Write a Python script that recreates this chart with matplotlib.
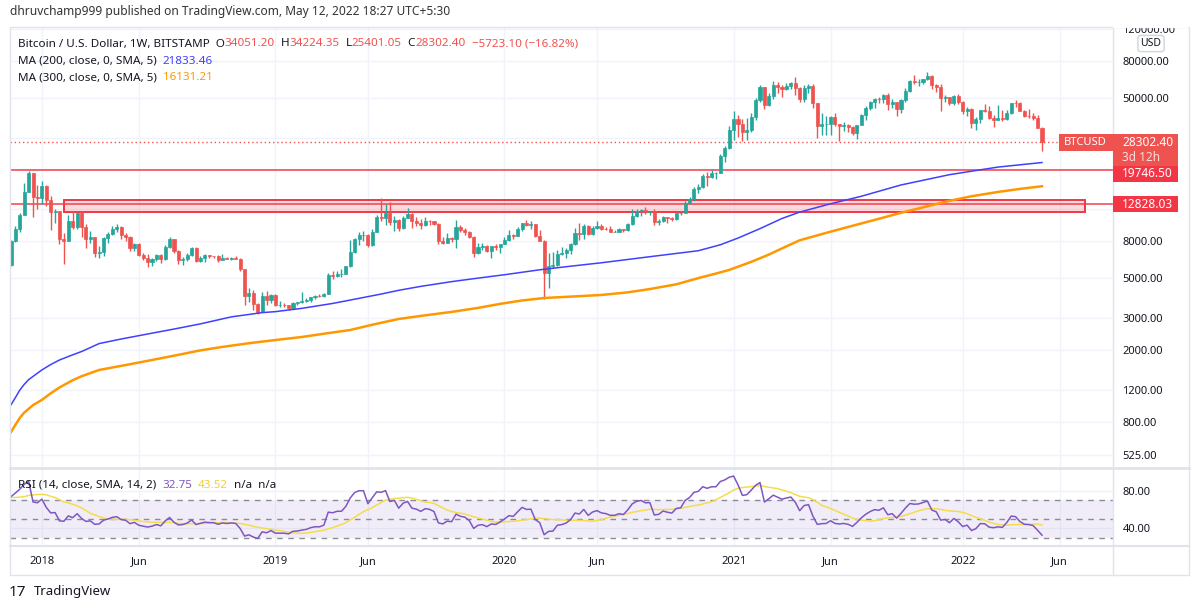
import numpy as np
import pandas as pd
import matplotlib
matplotlib.use("Agg")
import matplotlib.pyplot as plt
from matplotlib.patches import Rectangle
from matplotlib.lines import Line2D
from matplotlib.ticker import NullLocator
from matplotlib.transforms import blended_transform_factory

W, H = 1200, 610
plt.rcParams["font.family"] = ["Noto Sans", "DejaVu Sans"]

# BITSTAMP BTC/USD weekly candles, first bar = week of 2017-11-13
closes = [8040, 9380, 11250, 14900, 19050, 14100, 13850, 16200, 13600, 11550,
          11700, 8220, 8070, 10400, 9650, 11500, 9550, 8200, 8400, 6850,
          7000, 8350, 8800, 9400, 9650, 8700, 8500, 7350, 7700, 6750,
          6450, 6150, 6350, 6700, 6350, 7400, 8200, 7030, 6300, 6400,
          6700, 7300, 6250, 6500, 6700, 6620, 6600, 6300, 6500, 6400,
          6480, 6400, 5600, 4000, 4150, 3600, 3250, 4000, 3800, 4050,
          3550, 3550, 3530, 3420, 3650, 3670, 3750, 3800, 3930, 4000,
          3990, 4100, 5200, 5150, 5300, 5300, 5800, 7000, 8200, 8700,
          8700, 7650, 8950, 10850, 10800, 11450, 10200, 10550, 9500, 10800,
          11300, 10300, 10150, 9800, 10400, 10300, 10000, 8050, 7850, 8300,
          8200, 9550, 9200, 9050, 8500, 6900, 7400, 7500, 7100, 7500,
          7400, 7750, 8180, 8700, 8600, 9350, 10150, 9900, 9950, 8550,
          8050, 5350, 5850, 5900, 6800, 6900, 7150, 7700, 8900, 8750,
          9700, 8750, 9450, 9750, 9400, 9300, 9050, 9050, 9300, 9200,
          9950, 11100, 11700, 11900, 11650, 11700, 10250, 10350, 10900, 10750,
          10650, 11400, 11500, 13000, 13750, 15500, 15950, 18400, 18200, 19150,
          19150, 23850, 26300, 33000, 38200, 35800, 32300, 33100, 38900, 48600,
          57500, 45200, 51200, 59000, 57400, 55800, 58200, 60000, 56200, 49000,
          56600, 58200, 46400, 34700, 35600, 35800, 39000, 35500, 34700, 35300,
          34250, 31800, 35400, 39900, 43800, 47000, 49300, 48800, 51700, 46000,
          47200, 43200, 48200, 54600, 61500, 60900, 61300, 63300, 65500, 58700,
          57300, 49400, 50100, 46700, 50800, 47300, 41900, 43100, 36300, 37900,
          42400, 42200, 38400, 37700, 38400, 37800, 41300, 46800, 46400, 42200,
          39700, 39450, 38500, 34025.50, 28302.40]
highs = [8100, 9750, 11450, 16900, 19666, 19200, 16400, 17200, 16300, 14200,
         12000, 11800, 8900, 11250, 11750, 11650, 11700, 9950, 9100, 8500,
         7500, 8450, 9050, 9750, 10000, 9700, 8900, 8550, 7800, 7800,
         6850, 6800, 6450, 6800, 6780, 7600, 8500, 8250, 7150, 6550,
         6900, 7400, 7400, 6600, 6800, 6750, 6650, 6700, 6800, 6550,
         6550, 6600, 6500, 5650, 4400, 4300, 3650, 4200, 4250, 4100,
         4100, 3720, 3650, 3560, 3700, 3700, 4200, 3900, 3950, 4050,
         4100, 4150, 5350, 5450, 5450, 5650, 5850, 8100, 8350, 8950,
         9100, 8750, 9350, 11200, 13880, 12900, 13200, 11100, 10650, 11050,
         12300, 11500, 10950, 10650, 10900, 10450, 10350, 10050, 8500, 8850,
         8450, 10500, 9900, 9500, 9150, 8550, 7850, 7800, 7650, 7500,
         7700, 7550, 8450, 9200, 8800, 9600, 10150, 10500, 10300, 10000,
         9200, 8150, 6900, 6950, 7200, 7450, 7300, 7800, 9450, 10050,
         9950, 9850, 9700, 10400, 9950, 9600, 9780, 9200, 9450, 9350,
         10100, 12100, 12000, 12100, 12450, 11800, 12050, 10600, 11100, 10950,
         10950, 11450, 11750, 13350, 14050, 15950, 16500, 18800, 19450, 19900,
         19400, 24300, 26800, 34800, 41950, 40100, 37850, 38500, 40900, 49700,
         58350, 57500, 52650, 61800, 61200, 58500, 60200, 61200, 64900, 57200,
         58500, 59500, 59600, 46600, 40800, 39500, 39600, 41300, 35700, 36700,
         35900, 34600, 35400, 40600, 44800, 48150, 49400, 50500, 52000, 52900,
         48800, 47300, 49200, 56500, 62800, 67000, 63700, 63500, 69000, 66400,
         59400, 59100, 51950, 50600, 51900, 52000, 47550, 44450, 43500, 38950,
         42600, 45850, 44800, 39800, 45400, 42600, 42400, 46900, 48200, 47200,
         42450, 42950, 40800, 40000, 34224.35]
lows = [5850, 7900, 8950, 11150, 14900, 10900, 12100, 12800, 12600, 9200,
        10050, 7700, 6000, 8000, 9300, 9400, 8500, 7300, 7850, 6550,
        6450, 6600, 7850, 8650, 8950, 8250, 8000, 7050, 7050, 6650,
        6300, 5750, 5800, 6250, 6100, 6300, 7350, 6900, 6000, 5900,
        6250, 6650, 6150, 6150, 6150, 6450, 6500, 6150, 6280, 6380,
        6260, 6350, 5500, 3550, 3700, 3350, 3150, 3250, 3550, 3650,
        3500, 3450, 3450, 3350, 3400, 3550, 3650, 3700, 3700, 3850,
        3950, 3950, 4080, 4950, 5080, 5050, 5250, 5750, 6900, 7600,
        8050, 7450, 7550, 8950, 10400, 9800, 9900, 9100, 9150, 9400,
        10800, 9500, 9750, 9350, 9750, 9900, 9850, 7750, 7750, 7800,
        7900, 7300, 8950, 8650, 8350, 6550, 6800, 7200, 6950, 6450,
        7150, 6850, 7700, 8050, 8250, 8550, 9150, 9700, 9300, 8400,
        8000, 3850, 4400, 5700, 5850, 6750, 6500, 6800, 7650, 8100,
        8200, 8700, 8650, 9400, 9200, 9250, 8950, 8950, 9050, 9050,
        9100, 9900, 10950, 11100, 11350, 11150, 9900, 9850, 10250, 10150,
        10400, 10550, 11200, 11400, 12900, 13350, 14850, 15800, 16200, 18000,
        17600, 19000, 21900, 25900, 29000, 30400, 28900, 29250, 32300, 37400,
        47000, 43000, 44950, 49300, 53250, 50300, 55300, 55500, 51500, 47000,
        47000, 52900, 43900, 30000, 31200, 31100, 31000, 34800, 28800, 32700,
        32100, 31100, 29300, 35200, 37500, 42800, 43900, 46400, 46650, 42850,
        44000, 39600, 40800, 46950, 53900, 59500, 57800, 59400, 62300, 55600,
        53500, 42000, 47300, 45600, 45550, 45900, 40600, 39650, 34000, 32950,
        36300, 41700, 38000, 34300, 37500, 37200, 37600, 40500, 44200, 42100,
        39200, 38550, 37700, 33700, 25401.05]
opens = [5880] + closes[:-1]
opens[-1] = 34051.20  # exchange gap on the last bar

# weekly closes before the first visible bar (RSI warm-up only)
warmup_closes = [910, 820, 925, 915, 1015, 1000, 1050, 1180, 1270, 1230,
                 970, 965, 1090, 1190, 1180, 1250, 1350, 1560, 1770, 2040,
                 2200, 2520, 2950, 2610, 2480, 2500, 2500, 1920, 2750, 2730,
                 3230, 4050, 4090, 4350, 4600, 4200, 3700, 3650, 4400, 4600,
                 5700, 6000, 6150, 7400, 5880]

# moving averages (week index, price)
ma200_weeks = [0, 1, 2, 3, 4, 7, 9, 11, 14, 16, 20, 25, 29, 34, 38, 43, 50, 57,
               60, 66, 73, 77, 84, 88, 93, 100, 106, 112, 120, 127, 134, 145,
               156, 161, 165, 170, 175, 179, 186, 193, 202, 213, 224, 234]
ma200_values = [994, 1090, 1200, 1290, 1370, 1550, 1660, 1760, 1880, 1960, 2170,
                2300, 2400, 2530, 2640, 2790, 3050, 3220, 3260, 3400, 3620, 3780,
                4080, 4280, 4500, 4780, 5000, 5220, 5560, 5820, 6080, 6570, 7090,
                7650, 8330, 9400, 10700, 11600, 12900, 14200, 16400, 18700,
                20600, 21833]
ma300_weeks = [0, 1, 2, 3, 5, 7, 9, 11, 14, 16, 20, 26, 32, 38, 43, 48, 54, 60,
               66, 72, 77, 82, 88, 94, 100, 106, 111, 116, 121, 128, 134, 140,
               145, 151, 156, 160, 163, 168, 172, 176, 179, 185, 190, 196, 202,
               208, 213, 218, 224, 229, 234]
ma300_values = [703, 770, 841, 900, 990, 1058, 1150, 1240, 1360, 1430, 1550, 1650,
                1760, 1880, 1990, 2080, 2180, 2270, 2360, 2480, 2580, 2760, 2970,
                3110, 3250, 3420, 3600, 3760, 3880, 3960, 4034, 4170, 4350, 4620,
                5000, 5300, 5550, 6150, 6750, 7500, 8100, 8900, 9600, 10500,
                11500, 12500, 13400, 14200, 15000, 15600, 16131]

# drawings
levels = [19746.50, 12828.03]
zone_weeks = (12, 243.8)
zone_prices = (11670, 13550)

price_ticks = [525, 800, 1200, 2000, 3000, 5000, 8000, 12000, 20000, 30000,
               50000, 80000, 120000]
hidden_ticks = [12000, 20000, 30000]  # covered by the price tags
time_weeks = [7, 29, 60, 81, 112, 133, 164, 186, 216, 238]
time_labels = ["2018", "Jun", "2019", "Jun", "2020", "Jun", "2021", "Jun",
               "2022", "Jun"]

UP, DN = "#26a69a", "#ef5350"
TAG = "#f23645"
TXT = "#131722"
GRID = "#f0f3fa"
SEP = "#e0e3eb"


def fx(x):
    return x / W


def fy(y):
    return 1 - y / H


fig = plt.figure(figsize=(W / 100, H / 100), dpi=100)
ax = fig.add_axes([fx(10), fy(468), fx(1112.7) - fx(10), fy(26.7) - fy(468)])
axr = fig.add_axes([fx(10), fy(546), fx(1112.7) - fx(10), fy(468) - fy(546)],
                   sharex=ax)

n = len(closes)
x = np.arange(n)
o = np.array(opens, float)
c = np.array(closes, float)
hi = np.array(highs, float)
lo = np.array(lows, float)
col = np.where(c >= o, UP, DN)

ax.set_yscale("log")
ax.set_ylim(444, 123400)
ax.set_xlim(-0.23, 250.05)

ax.vlines(x, lo, hi, colors=col, lw=1, zorder=3)
ax.bar(x, np.abs(c - o), bottom=np.minimum(o, c), width=0.7, color=col,
       edgecolor=col, linewidth=0.5, zorder=4)

ax.plot(ma200_weeks, ma200_values, color="#4040ff", lw=1.1, zorder=5)
ax.plot(ma300_weeks, ma300_values, color="#ff9800", lw=1.8, zorder=5)

for lv in levels:
    ax.axhline(lv, color=TAG, lw=1.4, alpha=0.75, zorder=2)
ax.add_patch(Rectangle((zone_weeks[0], zone_prices[0]),
                       zone_weeks[1] - zone_weeks[0],
                       zone_prices[1] - zone_prices[0],
                       fc=(0.95, 0.21, 0.27, 0.18), ec=TAG, lw=1.4, zorder=2))
ax.axhline(closes[-1], color=DN, lw=1, ls=(0, (1, 2)), zorder=2)

ax.yaxis.tick_right()
ax.set_yticks(price_ticks)
ax.set_yticklabels(["" if v in hidden_ticks else f"{v:.2f}" for v in price_ticks])
ax.yaxis.set_minor_locator(NullLocator())
ax.set_xticks(time_weeks)
ax.tick_params(axis="y", length=0, pad=7, labelsize=8, labelcolor=TXT)
ax.tick_params(axis="x", length=0, labelbottom=False)
ax.grid(True, color=GRID, lw=1)
ax.set_axisbelow(True)
for s in ax.spines.values():
    s.set_visible(False)

# RSI (14) with SMA(14)
allc = pd.Series(warmup_closes + closes, dtype=float)
d = allc.diff()
gain = d.clip(lower=0).ewm(alpha=1 / 14, adjust=False).mean()
loss = (-d.clip(upper=0)).ewm(alpha=1 / 14, adjust=False).mean()
rsi = 100 - 100 / (1 + gain / loss)
rsi_ma = rsi.rolling(14).mean()
rsi = rsi.iloc[-n:].to_numpy()
rsi_ma = rsi_ma.iloc[-n:].to_numpy()

axr.set_ylim(21.2, 104)
axr.axhspan(30, 70, color="#7e57c2", alpha=0.1, lw=0)
for lv in (70, 50, 30):
    axr.axhline(lv, color="#787b86", lw=1, ls=(0, (4, 4)), alpha=0.85)
axr.plot(x, rsi, color="#7e57c2", lw=1.1, zorder=4)
axr.plot(x, rsi_ma, color="#f5dc4d", lw=1.1, zorder=3)
axr.yaxis.tick_right()
axr.set_yticks([40, 80])
axr.set_yticklabels(["40.00", "80.00"])
axr.tick_params(axis="y", length=0, pad=7, labelsize=8, labelcolor=TXT)
axr.set_xticks(time_weeks)
axr.set_xticklabels(time_labels)
axr.tick_params(axis="x", length=0, pad=7, labelsize=8, labelcolor=TXT)
for t in axr.get_xticklabels():
    if t.get_text().isdigit():
        t.set_fontweight("bold")
axr.grid(True, color=GRID, lw=1)
axr.set_axisbelow(True)
for s in axr.spines.values():
    s.set_visible(False)

# frame and separators
fig.add_artist(Rectangle((fx(10), fy(575)), fx(1189) - fx(10), fy(26.7) - fy(575),
                         transform=fig.transFigure, fill=False, ec=SEP, lw=1))
for yy, lw in ((468, 2), (546, 1.5)):
    fig.add_artist(Line2D([fx(10), fx(1189)], [fy(yy), fy(yy)], color=SEP, lw=lw))
fig.add_artist(Line2D([fx(1112.7), fx(1112.7)], [fy(26.7), fy(575)], color=SEP, lw=1))
# hide what pokes above the frame
fig.add_artist(Rectangle((fx(1113), fy(27.5)), fx(1188) - fx(1113), fy(18) - fy(27.5),
                         transform=fig.transFigure, fc="white", ec="none", zorder=10))

# price tags on the axis
tr = blended_transform_factory(ax.transAxes, ax.transData)


def py(price):
    return H - tr.transform((1, price))[1]


def box(x0, y0, x1, y1, fc):
    fig.add_artist(Rectangle((fx(x0), fy(y1)), fx(x1) - fx(x0), fy(y0) - fy(y1),
                             transform=fig.transFigure, fc=fc, ec="none", zorder=11))


last_y = py(closes[-1])
top = last_y - 8.5
box(1059, top, 1112.7, top + 17, DN)
fig.text(fx(1064), fy(top + 8.5), "BTCUSD", color="white", fontsize=8,
         fontweight="bold", va="center", zorder=12)
box(1112.7, top, 1178, top + 32, DN)
fig.text(fx(1122), fy(top + 8.5), f"{closes[-1]:.2f}", color="white", fontsize=8.5,
         fontweight="bold", va="center", zorder=12)
fig.text(fx(1122), fy(top + 24), "3d 12h", color="white", alpha=0.8, fontsize=8.5,
         va="center", zorder=12)
prev_bottom = top + 32
for lv in levels:
    t = max(py(lv) - 8, prev_bottom)
    box(1112.7, t, 1178, t + 16, TAG)
    fig.text(fx(1122), fy(t + 8), f"{lv:.2f}", color="white", fontsize=8.5,
             fontweight="bold", va="center", zorder=12)
    prev_bottom = t + 16

fig.text(fx(1151), fy(43.5), "USD", color=TXT, fontsize=7.5, ha="center", va="center",
         zorder=12, bbox=dict(boxstyle="round,pad=0.25", fc="white", ec="#d1d4dc", lw=1))


# legends (annotations chained one after another)
def chain(owner, xp, yp, parts, size=8.4):
    t = fig.text(fx(xp), fy(yp), parts[0][0], color=parts[0][1], fontsize=size,
                 va="center", zorder=12)
    for s, cc in parts[1:]:
        t = owner.annotate(s, xy=(1, 0), xycoords=t, va="bottom", ha="left", color=cc,
                           fontsize=size, annotation_clip=False, clip_on=False,
                           zorder=12)


chg = closes[-1] - closes[-2]
pct = chg / closes[-2] * 100
chain(ax, 18, 44, [("Bitcoin / U.S. Dollar, 1W, BITSTAMP  O", TXT), (f"{opens[-1]:.2f}", DN),
                   ("  H", TXT), (f"{highs[-1]:.2f}", DN), ("  L", TXT),
                   (f"{lows[-1]:.2f}", DN), ("  C", TXT), (f"{closes[-1]:.2f}", DN),
                   (f"  \u2212{abs(chg):.2f} (\u2212{abs(pct):.2f}%)", DN)])
chain(ax, 18, 61, [("MA (200, close, 0, SMA, 5)  ", TXT), ("21833.46", "#4040ff")])
chain(ax, 18, 78, [("MA (300, close, 0, SMA, 5)  ", TXT), ("16131.21", "#ff9800")])
chain(axr, 18, 485, [("RSI (14, close, SMA, 14, 2)  ", TXT), ("32.75", "#7e57c2"),
                     ("  ", TXT), ("43.52", "#f0cf3a"), ("  n/a  n/a", TXT)])

fig.text(fx(10), fy(12), "dhruvchamp999 published on TradingView.com, May 12, 2022 18:27 UTC+5:30",
         color="#333333", fontsize=8.6, va="center")
fig.text(fx(9), fy(592), "17", color=TXT, fontsize=11, fontweight="heavy", va="center")
fig.text(fx(34), fy(592), "TradingView", color=TXT, fontsize=9.5, va="center")

fig.savefig("out.png", dpi=100, facecolor="white")
